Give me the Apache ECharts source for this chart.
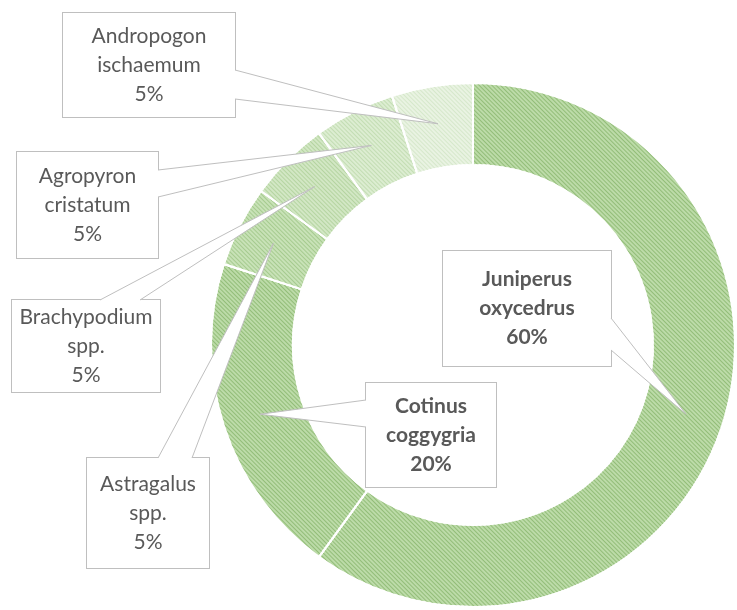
<!DOCTYPE html>
<html>
<head>
<meta charset="utf-8">
<style>
    html, body { margin: 0; padding: 0; background: #fff; }
    #main { width: 737px; height: 610px; }
</style>
<script src="https://cdn.jsdelivr.net/npm/echarts@6/dist/echarts.min.js"></script>
</head>
<body>
<div id="main"></div>
<script>
    // data
    const species = ['Juniperus oxycedrus', 'Cotinus coggygria', 'Astragalus spp.', 'Brachypodium spp.', 'Agropyron cristatum', 'Andropogon ischaemum'];
    const shares = [60, 20, 5, 5, 5, 5];
    const boldLabel = [true, true, false, false, false, false];

    // styling
    const sliceColors = ['#bcdba8', '#bcdba8', '#c8e2b7', '#d2e7c4', '#dcedd1', '#e9f3e2'];
    const hatchColors = ['rgba(118,168,88,0.6)', 'rgba(118,168,88,0.6)', 'rgba(132,180,104,0.5)', 'rgba(140,186,112,0.42)', 'rgba(150,192,124,0.36)', 'rgba(170,204,150,0.3)'];

    // callout boxes (left, top, width, height) and where the pointer leaves the box
    const boxes = [
        { x: 443, y: 251, w: 168, h: 115, edge: 'right', a: 318, b: 350 },
        { x: 366, y: 383, w: 130, h: 104, edge: 'left', a: 400, b: 427 },
        { x: 87, y: 458, w: 122, h: 110, edge: 'top', a: 158, b: 192 },
        { x: 12, y: 300, w: 148, h: 92, edge: 'top', a: 100, b: 140 },
        { x: 17, y: 152, w: 141, h: 106, edge: 'right', a: 170, b: 197 },
        { x: 63, y: 13, w: 172, h: 104, edge: 'right', a: 70, b: 99 }
    ];

    const center = [473, 345];
    const radius = [180, 262];
    const lineH = 29;

    const total = shares.reduce((s, v) => s + v, 0);

    // pointer tips sit in the middle of each slice
    function tipOf(i) {
        let before = 0;
        for (let k = 0; k < i; k++) before += shares[k];
        const ang = (before + shares[i] / 2) / total * Math.PI * 2;
        const r = (radius[0] + radius[1]) / 2 + 3;
        return [center[0] + r * Math.sin(ang), center[1] - r * Math.cos(ang)];
    }

    function baseOf(b) {
        if (b.edge === 'right') return [[b.x + b.w, b.a], [b.x + b.w, b.b]];
        if (b.edge === 'left') return [[b.x, b.a], [b.x, b.b]];
        return [[b.a, b.y], [b.b, b.y]];
    }

    const graphics = [];
    species.forEach((n, i) => {
        const tip = tipOf(i);
        const base = baseOf(boxes[i]);
        graphics.push({
            type: 'polygon', z: 10, silent: true,
            shape: { points: [base[0], tip, base[1]] },
            style: { fill: '#fff', stroke: null }
        });
        graphics.push({
            type: 'polyline', z: 11, silent: true,
            shape: { points: [base[0], tip, base[1]] },
            style: { fill: null, stroke: '#bfbfbf', lineWidth: 1 }
        });
    });

    const seriesData = species.map((n, i) => ({
        name: n,
        value: shares[i],
        itemStyle: {
            color: sliceColors[i],
            decal: {
                symbol: 'rect',
                symbolSize: 1,
                dashArrayX: [1, 0],
                dashArrayY: [1, 2],
                rotation: Math.PI / 4,
                color: hatchColors[i]
            }
        },
        label: {
            fontWeight: boldLabel[i] ? 'bold' : 'normal',
            width: boxes[i].w,
            padding: [(boxes[i].h - lineH * 3) / 2, 0]
        }
    }));

    const myChart = echarts.init(document.getElementById('main'));
    const option = {
        animation: false,
        backgroundColor: '#fff',
        graphic: graphics,
        series: [{
            type: 'pie',
            center: center,
            radius: radius,
            startAngle: 90,
            clockwise: true,
            avoidLabelOverlap: false,
            data: seriesData,
            itemStyle: {
                borderColor: '#fff',
                borderWidth: 2
            },
            label: {
                show: true,
                position: 'outside',
                formatter: (p) => p.name.replace(' ', '\n') + '\n' + p.percent.toFixed(0) + '%',
                fontFamily: 'Lato',
                fontSize: 21,
                lineHeight: lineH,
                color: '#595959',
                align: 'center',
                backgroundColor: '#fff',
                borderColor: '#bfbfbf',
                borderWidth: 1
            },
            labelLine: { show: false },
            labelLayout: (params) => {
                const b = boxes[params.dataIndex];
                return {
                    x: b.x + b.w / 2,
                    y: b.y + b.h / 2,
                    align: 'center',
                    verticalAlign: 'middle'
                };
            },
            emphasis: { disabled: true }
        }]
    };
    myChart.setOption(option);
    window.onresize = () => {
        myChart.resize();
    };
</script>
</body>
</html>
